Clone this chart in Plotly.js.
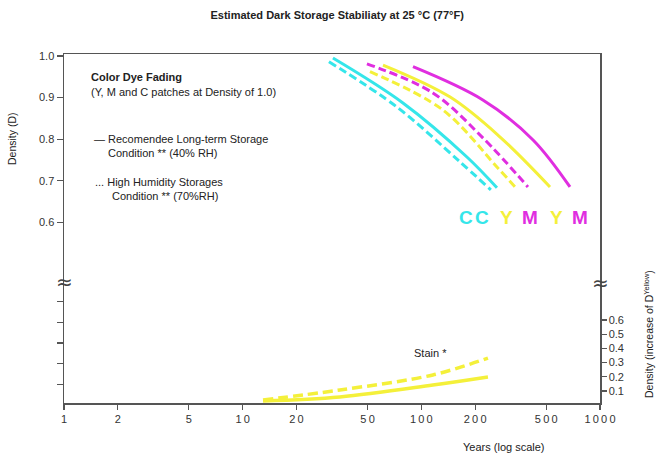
<!DOCTYPE html>
<html>
<head>
<meta charset="utf-8">
<script src="https://cdn.plot.ly/plotly-3.0.1.min.js"></script>
<style>html,body{margin:0;padding:0;background:#fff;}#chart{width:669px;height:458px;}</style>
</head>
<body>
<div id="chart"></div>
<script>
// ---- data (years, density) ----
const cyanSolidX = [32.0, 78.9, 180, 265];
const cyanSolidY = [0.995, 0.887, 0.757, 0.683];
const cyanDashX = [30.4, 73.1, 160, 245];
const cyanDashY = [0.986, 0.877, 0.750, 0.678];
const magentaDashX = [49.6, 116, 221, 395];
const magentaDashY = [0.981, 0.911, 0.803, 0.685];
const yellowSolidX = [61.0, 145, 276, 525];
const yellowSolidY = [0.978, 0.901, 0.805, 0.685];
const yellowDashX = [51.6, 132, 265, 343];
const yellowDashY = [0.962, 0.870, 0.733, 0.680];
const magentaSolidX = [89.8, 221, 422, 679];
const magentaSolidY = [0.974, 0.894, 0.798, 0.685];
// stain (increase of yellow density)
const stainX = [13.0, 35.0, 116, 236];
const stainSolidY = [0.030, 0.058, 0.142, 0.199];
const stainDashY = [0.037, 0.107, 0.213, 0.332];
// ticks
const xTickVals = [1, 2, 5, 10, 20, 50, 100, 200, 500, 1000];
const xTickText = ['1', '2', '5', '1\u20090', '2\u20090', '5\u20090', '1\u20090\u20090', '2\u20090\u20090', '5\u20090\u20090', '1\u20090\u20090\u20090'];
const yTickVals = [0.6, 0.7, 0.8, 0.9, 1.0];
const yTickText = ['0.6', '0.7', '0.8', '0.9', '1.0'];
const yMinorTickVals = [0.21, 0.26, 0.31, 0.36, 0.41];
const y2TickVals = [0.1, 0.2, 0.3, 0.4, 0.5, 0.6];
const y2TickText = ['0.1', '0.2', '0.3', '0.4', '0.5', '0.6'];
const dyeLetters = ['C', 'C', 'Y', 'M', 'Y', 'M'];

const CYAN = '#35e6ea', YELLOW = '#f4f03a', MAGENTA = '#e02ee0';
const FONT = 'Liberation Sans, Arial, sans-serif';
const DASH = '8px,4px';

function line(x, y, color, dash, yaxis, width) {
  return {x: x, y: y, type: 'scatter', mode: 'lines', yaxis: yaxis || 'y',
    line: {color: color, width: width || 3, dash: dash || 'solid', shape: 'spline', smoothing: 1},
    hoverinfo: 'skip'};
}

const traces = [
  line(cyanSolidX, cyanSolidY, CYAN),
  line(cyanDashX, cyanDashY, CYAN, DASH),
  line(yellowDashX, yellowDashY, YELLOW, DASH),
  line(magentaDashX, magentaDashY, MAGENTA, DASH),
  line(yellowSolidX, yellowSolidY, YELLOW),
  line(magentaSolidX, magentaSolidY, MAGENTA),
  line(stainX, stainSolidY, YELLOW, 'solid', 'y2', 3.5),
  line(stainX, stainDashY, YELLOW, '10px,5px', 'y2', 3.5)
];

// plot area in pixels: x 64..600, y 54..403
const L = 64, R = 600, T = 54, B = 403;
const px = v => (v - L) / (R - L);
const py = v => (B - v) / (B - T);

const txt = (text, x, y, opts) => Object.assign({
  text: text, xref: 'paper', yref: 'paper', x: px(x), y: py(y),
  xanchor: 'left', yanchor: 'middle', showarrow: false,
  font: {family: FONT, size: 11, color: '#222'}
}, opts || {});

const letterX = [466, 482, 506, 530, 556, 580];
const letterColors = [CYAN, CYAN, YELLOW, MAGENTA, YELLOW, MAGENTA];

const annotations = [
  txt('<b>Color Dye Fading</b>', 89, 77),
  txt('(Y, M and C patches at Density of 1.0)', 89, 92),
  txt('\u2014 Recomendee Long-term Storage', 92, 139),
  txt('Condition ** (40% RH)', 106, 153),
  txt('... High Humidity Storages', 93, 182),
  txt('Condition ** (70%RH)', 110, 196),
  txt('Stain *', 430, 353, {xanchor: 'center'}),
  txt('Years (log scale)', 504, 447, {xanchor: 'center'}),
  txt('Density (D)', 12, 139, {xanchor: 'center', textangle: -90, font: {family: FONT, size: 10.5, color: '#222'}}),
  txt('Density (increase of D<sup>Yellow</sup>)', 648, 334, {xanchor: 'center', textangle: -90, font: {family: FONT, size: 10.5, color: '#222'}}),
  txt('\u2248', L, 282, {xanchor: 'center', font: {family: 'DejaVu Sans, sans-serif', size: 20, color: '#444'}}),
  txt('\u2248', R, 283, {xanchor: 'center', font: {family: 'DejaVu Sans, sans-serif', size: 20, color: '#444'}})
];
dyeLetters.forEach((c, i) => {
  annotations.push(txt('<b>' + c + '</b>', letterX[i], 218, {xanchor: 'center',
    font: {family: FONT, size: 19, color: letterColors[i]}}));
});

const axisCommon = {showgrid: false, zeroline: false, showline: true, linecolor: '#555', linewidth: 1.5,
  ticks: 'outside', ticklen: 6, tickcolor: '#555', tickwidth: 1.2,
  tickfont: {family: FONT, size: 11, color: '#333'}};

const layout = {
  width: 669, height: 458,
  margin: {l: L, r: 669 - R, t: T, b: 458 - B},
  paper_bgcolor: '#fff', plot_bgcolor: '#fff',
  showlegend: false,
  title: {text: '<b>Estimated Dark Storage Stabiliaty at 25 \u00b0C (77\u00b0F)</b>',
    x: 0.504, xanchor: 'center', y: 1 - 15 / 458, yanchor: 'middle',
    font: {family: FONT, size: 11, color: '#222'}},
  xaxis: Object.assign({}, axisCommon, {type: 'log', range: [0, 3], mirror: true,
    tickmode: 'array', tickvals: xTickVals, ticktext: xTickText, ticklen: 5}),
  yaxis: Object.assign({}, axisCommon, {range: [0.1656, 1.0046],
    tickmode: 'array', tickvals: yTickVals, ticktext: yTickText,
    minor: {tickmode: 'array', tickvals: yMinorTickVals, ticks: 'outside', ticklen: 6, tickcolor: '#555', tickwidth: 1.2, showgrid: false}}),
  yaxis2: Object.assign({}, axisCommon, {overlaying: 'y', side: 'right', range: [0.0155, 2.472],
    tickmode: 'array', tickvals: y2TickVals, ticktext: y2TickText, ticklen: 5}),
  annotations: annotations
};

Plotly.newPlot('chart', traces, layout, {displayModeBar: false, staticPlot: true});
</script>
</body>
</html>
